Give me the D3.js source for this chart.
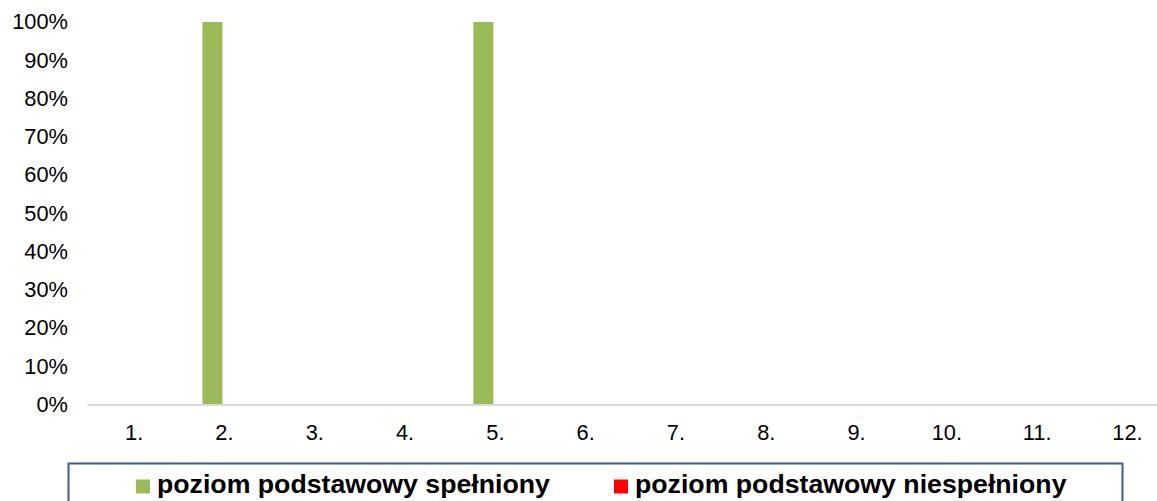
<!DOCTYPE html>
<html>
<head>
<meta charset="utf-8">
<script src="https://cdn.jsdelivr.net/npm/d3@7"></script>
<style>
  body { margin: 0; background: #fff; }
  svg { display: block; font-family: "Liberation Sans", Arial, sans-serif; }
  .axis text { fill: #000; font-size: 21.8px; }
  .legend text { font-size: 26.7px; font-weight: bold; fill: #000; }
</style>
</head>
<body>
<div class="chart"></div>
<script>
// chart data
var categories = ["1.", "2.", "3.", "4.", "5.", "6.", "7.", "8.", "9.", "10.", "11.", "12."];
var seriesNames = ["poziom podstawowy spełniony", "poziom podstawowy niespełniony"];
var spelniony = [0, 1, 0, 0, 1, 0, 0, 0, 0, 0, 0, 0];
var niespelniony = [0, 0, 0, 0, 0, 0, 0, 0, 0, 0, 0, 0];
var yTicks = [0, 0.1, 0.2, 0.3, 0.4, 0.5, 0.6, 0.7, 0.8, 0.9, 1];
var colors = ["#9BBB59", "#FF0000"];

var svgWidth = 1157;
var svgHeight = 501;

var svg = d3.select(".chart")
  .append("svg")
  .attr("width", svgWidth)
  .attr("height", svgHeight);

var yScale = d3.scaleLinear()
  .domain([0, 1])
  .range([404.5, 22]);

var xScale = d3.scaleBand()
  .domain(categories)
  .range([87, 87 + 12 * 90.3]);

// two bars per category, each 20px wide, centered in the band
var barW = 20;
var x1 = d3.scaleBand()
  .domain(seriesNames)
  .range([xScale.bandwidth() / 2 - barW, xScale.bandwidth() / 2 + barW]);

var rows = categories.map(function(c, i) {
  return { cat: c, values: [spelniony[i], niespelniony[i]] };
});

// y axis labels
var leftAxis = d3.axisLeft(yScale)
  .tickValues(yTicks)
  .tickSize(0)
  .tickPadding(0)
  .tickFormat(d3.format(".0%"));

svg.append("g")
  .attr("class", "axis")
  .attr("transform", "translate(68,0)")
  .call(leftAxis)
  .call(function(g) { g.select(".domain").remove(); });

// bars
var groups = svg.append("g").selectAll("g")
  .data(rows)
  .enter().append("g")
  .attr("transform", function(d) { return "translate(" + xScale(d.cat) + ",0)"; });

groups.selectAll("rect")
  .data(function(d) { return d.values.map(function(v, i) { return { name: seriesNames[i], value: v, idx: i }; }); })
  .enter().append("rect")
  .attr("x", function(d) { return x1(d.name); })
  .attr("width", x1.bandwidth())
  .attr("y", function(d) { return yScale(d.value); })
  .attr("height", function(d) { return yScale(0) - yScale(d.value); })
  .attr("fill", function(d) { return colors[d.idx]; });

// x axis
var bottomAxis = d3.axisBottom(xScale)
  .tickSize(0)
  .tickSizeOuter(0)
  .tickPadding(22);

var xg = svg.append("g")
  .attr("class", "axis")
  .attr("transform", "translate(0,404.5)")
  .call(bottomAxis);

xg.select(".domain")
  .attr("stroke", "#D9D9D9")
  .attr("stroke-width", 2);

xg.selectAll(".tick text")
  .attr("dx", 2)
  .attr("dy", "0.6em");

// legend
var legend = svg.append("g").attr("class", "legend");

legend.append("rect")
  .attr("x", 68.5)
  .attr("y", 463.5)
  .attr("width", 1054)
  .attr("height", 60)
  .attr("fill", "none")
  .attr("stroke", "#3B5F8F")
  .attr("stroke-width", 2);

var legendX = [136, 614];

seriesNames.forEach(function(name, i) {
  legend.append("rect")
    .attr("x", legendX[i])
    .attr("y", 479.5)
    .attr("width", 14)
    .attr("height", 14)
    .attr("fill", colors[i]);
  legend.append("text")
    .attr("x", legendX[i] + 21)
    .attr("y", 493)
    .text(name);
});
</script>
</body>
</html>
